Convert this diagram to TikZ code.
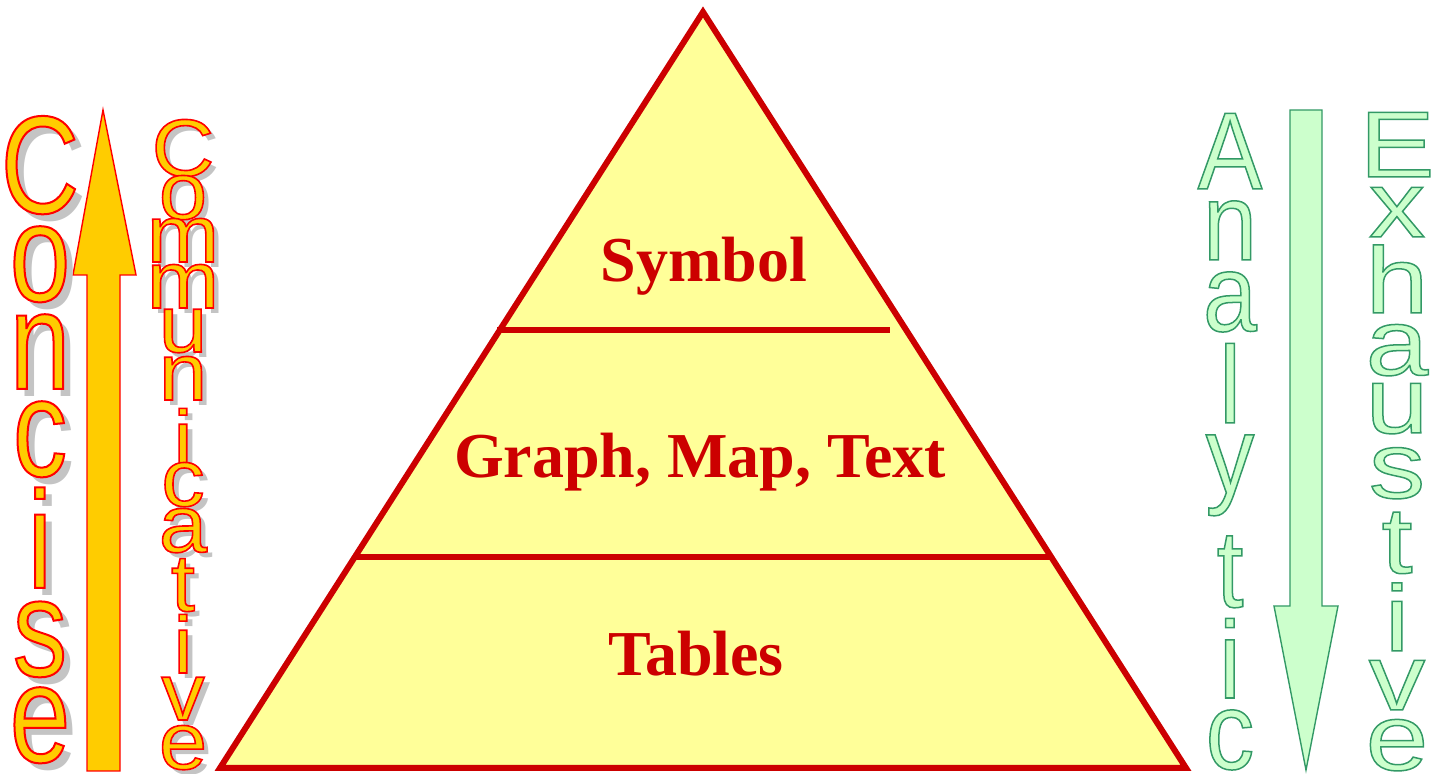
\documentclass[tikz,border=0pt]{standalone}
\usepackage{fontspec}
\setmainfont{Liberation Serif}
\newfontfamily\conciseface[FakeStretch=0.78]{Liberation Sans}
\newfontfamily\commface[FakeStretch=1.07]{Liberation Sans}
\newfontfamily\analyface[FakeStretch=0.88]{Liberation Sans}
\newfontfamily\exhface[FakeStretch=1.2]{Liberation Sans}

\definecolor{pyrred}{HTML}{CC0000}
\definecolor{pyryellow}{HTML}{FFFF99}
\definecolor{gold}{HTML}{FFCC00}
\definecolor{mint}{HTML}{CCFFCC}
\definecolor{mintline}{HTML}{339966}
\definecolor{shade}{HTML}{C4C4C4}

% outlined glyphs: fill with the text colour, stroke with #1 (rgb)
\newcommand\strokeon[2]{\special{pdf:literal direct #1 RG #2 w 2 Tr}}
\newcommand\strokeoff{\special{pdf:literal direct 0 Tr}}

\tikzset{
	tierline/.style={draw=pyrred, line width=3pt},
	tier/.style={text=pyrred, font=\bfseries\fontsize{32}{32}\selectfont, anchor=base, inner sep=0pt},
	letter/.style={anchor=base, inner sep=0pt},
	concise/.style={font=\conciseface\fontsize{69.5}{70}\selectfont},
	comm/.style={font=\commface\fontsize{40.5}{41}\selectfont},
	analy/.style={font=\analyface\fontsize{55}{56}\selectfont},
	exh/.style={font=\exhface\fontsize{47}{48}\selectfont},
}

\begin{document}
\begin{tikzpicture}[x=0.5pt, y=-0.5pt]
				\useasboundingbox (0,0) rectangle (1437,774);

				% pyramid
				\coordinate (apex) at (703,12);
				\coordinate (bl) at (220,768);
				\coordinate (br) at (1186,768);
				\filldraw[tierline, fill=pyryellow, line join=miter] (apex) -- (bl) -- (br) -- cycle;
				\draw[tierline] (497,330) -- (890,330);
				\draw[tierline] (355,557) -- (1051,557);

				\node[tier] (symbol) at (704,282) {Symbol};
				\node[tier] (graph) at (700,478) {Graph, Map, Text};
				\node[tier] (tables) at (696,676) {Tables};

				% upward arrow
				\filldraw[fill=gold, draw=red, line width=0.7pt]
					(103,110) -- (136,275) -- (120,275) -- (120,771) -- (87,771) -- (87,275) -- (73,275) -- cycle;

				% downward arrow
				\filldraw[fill=mint, draw=mintline, line width=0.7pt]
					(1290,110) -- (1322,110) -- (1322,606) -- (1338,606) -- (1306,770) -- (1274,606) -- (1290,606) -- cycle;

				% Concise
				\foreach \ch/\yb [count=\k] in {C/213, o/301, n/389, c/476, i/588, s/676, e/762} {
					\node[letter, concise, text=shade] (concs\k) at (48,\yb+8) {\ch};
				}
				\foreach \ch/\yb [count=\k] in {C/213, o/301, n/389, c/476, i/588, s/676, e/762} {
					\node[letter, concise, text=gold] (conc\k) at (40,\yb) {\strokeon{1 0 0}{1}\ch\strokeoff};
				}

				% Communicative
				\foreach \ch/\yb [count=\k] in {C/176, o/219, m/262, m/308, u/352, n/400, i/467, c/506, a/552, t/611, i/673, v/720, e/769} {
					\node[letter, comm, text=shade] (comms\k) at (189,\yb+6) {\ch};
				}
				\foreach \ch/\yb [count=\k] in {C/176, o/219, m/262, m/308, u/352, n/400, i/467, c/506, a/552, t/611, i/673, v/720, e/769} {
					\node[letter, comm, text=gold] (comm\k) at (183,\yb) {\strokeon{1 0 0}{0.8}\ch\strokeoff};
				}

				% Analytic
				\foreach \ch/\yb [count=\k] in {A/189, n/260, a/331, l/423, y/493, t/607, i/698, c/769} {
					\node[letter, analy, text=mint] (ana\k) at (1230,\yb) {\strokeon{0.2 0.6 0.4}{0.75}\ch\strokeoff};
				}

				% Exhaustive
				\foreach \ch/\yb [count=\k] in {E/177, x/237, h/313, a/375, u/433, s/498, t/573, i/651, v/710, e/770} {
					\node[letter, exh, text=mint] (exh\k) at (1397,\yb) {\strokeon{0.2 0.6 0.4}{0.75}\ch\strokeoff};
				}
			\end{tikzpicture}
\end{document}
